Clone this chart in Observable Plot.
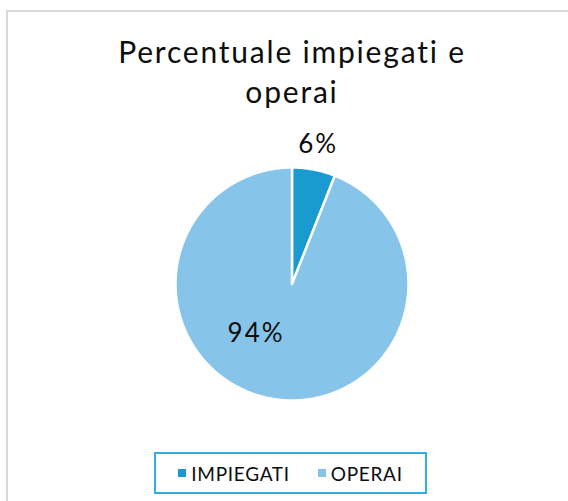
<!DOCTYPE html>
<html>
<head>
<meta charset="utf-8">
<script src="https://cdn.jsdelivr.net/npm/d3@7"></script>
<script src="https://cdn.jsdelivr.net/npm/@observablehq/plot@0.6"></script>
<style>
  html, body { margin: 0; padding: 0; background: #fff; }
  #wrap { position: relative; width: 568px; height: 501px; overflow: hidden; font-family: Lato, "Open Sans", sans-serif; color: #0d0d0d; }
  #frame { position: absolute; left: 6px; top: 10px; width: 600px; height: 560px; border: 2px solid #d9d9d9; box-sizing: border-box; }
  #title { position: absolute; left: 0; top: 31px; width: 584px; text-align: center; font-size: 30px; line-height: 40px; letter-spacing: 1.8px; }
  #chart { position: absolute; left: 0; top: 0; }
  #legend { position: absolute; left: 154px; top: 452px; width: 273px; height: 42px; box-sizing: border-box; border: 2px solid #2eb0e4; display: flex; align-items: center; justify-content: center; gap: 28px; font-size: 19px; letter-spacing: 0.7px; }
  .item { display: flex; align-items: center; gap: 5px; }
  .sw { width: 8px; height: 8px; display: inline-block; }
  #chart text { letter-spacing: 2px; }
</style>
</head>
<body>
<div id="wrap">
  <div id="frame"></div>
  <div id="chart"></div>
  <div id="title">Percentuale impiegati e<br>operai</div>
  <div id="legend"></div>
</div>
<script>
const categories = ["IMPIEGATI", "OPERAI"];
const values = [6, 94];
const labels = ["6%", "94%"];
const colors = ["#1a9bcf", "#87c4ea"];

// slice geometry from d3.pie (clockwise from 12 o'clock)
const arcs = d3.pie().sort(null).value(d => d)(values);
const poly = [];
arcs.forEach((a, i) => {
  const n = Math.max(2, Math.ceil((a.endAngle - a.startAngle) / 0.01));
  poly.push({cat: categories[i], x: 0, y: 0});
  for (let k = 0; k <= n; k++) {
    const t = a.startAngle + (a.endAngle - a.startAngle) * k / n;
    poly.push({cat: categories[i], x: Math.sin(t), y: Math.cos(t)});
  }
  poly.push({cat: categories[i], x: 0, y: 0});
});
const labelRadius = [1.2, 0.5];
const labelData = arcs.map((a, i) => {
  const m = (a.startAngle + a.endAngle) / 2;
  return {cat: categories[i], text: labels[i], x: labelRadius[i] * Math.sin(m), y: labelRadius[i] * Math.cos(m)};
});

const plot = Plot.plot({
  width: 568,
  height: 501,
  margin: 0,
  x: {domain: [-1, 1], range: [175, 408], axis: null},
  y: {domain: [-1, 1], range: [400, 167], axis: null},
  color: {domain: categories, range: colors},
  marks: [
    Plot.line(poly, {x: "x", y: "y", z: "cat", fill: "cat", stroke: "white", strokeWidth: 2.5, strokeLinejoin: "round"}),
    Plot.text(labelData.slice(0, 1), {x: "x", y: "y", text: "text", fontSize: 26, dy: -2, fill: "#0d0d0d"}),
    Plot.text(labelData.slice(1), {x: "x", y: "y", text: "text", fontSize: 26, dx: -25, dy: -8, fill: "#0d0d0d"})
  ],
  style: {fontFamily: "Lato, 'Open Sans', sans-serif", background: "transparent"}
});
document.getElementById("chart").appendChild(plot);

const leg = document.getElementById("legend");
categories.forEach((c, i) => {
  const it = document.createElement("span");
  it.className = "item";
  it.innerHTML = `<span class="sw" style="background:${colors[i]}"></span><span>${c}</span>`;
  leg.appendChild(it);
});
</script>
</body>
</html>
